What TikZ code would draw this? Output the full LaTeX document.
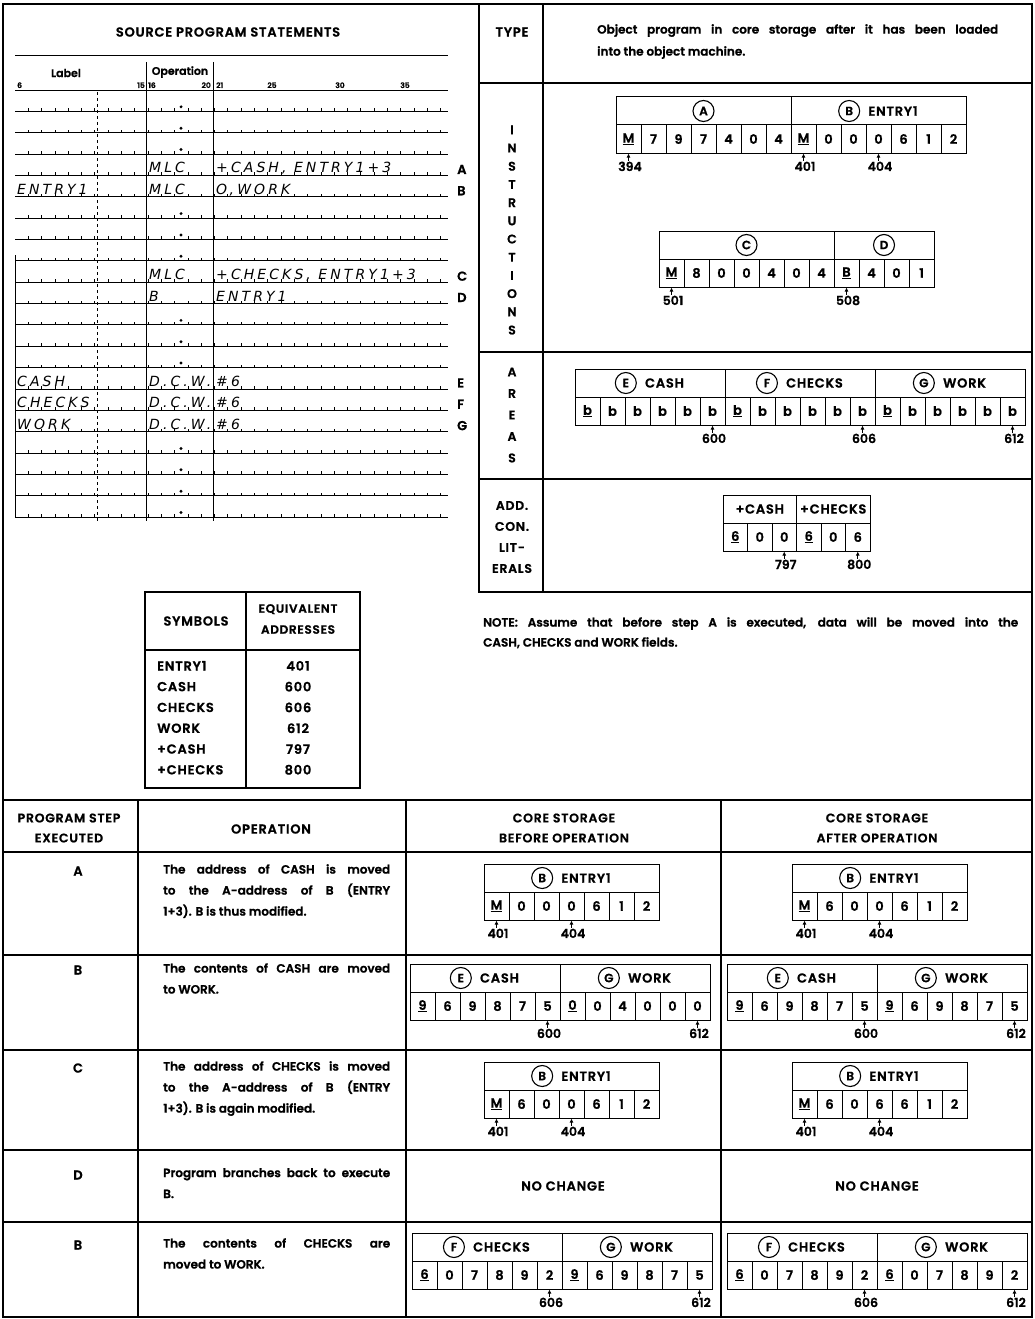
\documentclass[tikz,border=0pt]{standalone}
\usepackage{fontspec}
\IfFontExistsTF{Poppins SemiBold}{\def\mainname{Poppins SemiBold}}{%
  \IfFontExistsTF{Poppins Medium}{\def\mainname{Poppins Medium}}{\def\mainname{Poppins}}}
\setmainfont{\mainname}[FakeBold=1]
\newfontfamily\capsfont{\mainname}[FakeBold=1, LetterSpace=6]
\newfontfamily\handfont{DejaVu Sans}[LetterSpace=22]
\usetikzlibrary{positioning}
\usetikzlibrary{arrows.meta}

\def\cw{25}   % cell width
\def\chh{28}  % cell height
\def\hh{28}   % header height
\newcommand\wm[1]{\underline{#1}}
\newcommand\rowy[1]{90+21.35*(#1+1)}
\newcommand\capsz{\capsfont\fontsize{13}{15}\selectfont}

\tikzset{frame/.style={line width=1.2pt}}
\tikzset{sheet/.style={line width=0.8pt}}
\tikzset{cell/.style={draw, line width=1pt, minimum width=\cw pt, minimum height=\chh pt,
    inner sep=0pt, font=\fontsize{13}{15}\selectfont}}
\tikzset{hdbox/.style={draw, line width=1pt, minimum height=\hh pt, inner sep=0pt}}
\tikzset{circ/.style={draw, circle, line width=1.1pt, inner sep=0pt, minimum size=21pt,
    font=\fontsize{12}{13}\selectfont}}
\tikzset{htext/.style={inner sep=0pt, font=\capsz}}
\tikzset{addr/.style={inner sep=0pt, font=\fontsize{12.5}{14}\selectfont}}
\tikzset{ptr/.style={-{Latex[length=4pt,width=4pt]}, line width=0.9pt}}
\tikzset{lbl/.style={inner sep=0pt, font=\capsz}}
\tikzset{colnum/.style={inner sep=0pt, font=\fontsize{7.5}{9}\selectfont}}
\tikzset{opbody/.style={inner sep=0pt, text width=227pt, align=justify, anchor=north west,
    font=\fontsize{12}{21}\selectfont}}
\tikzset{hand/.style={inner sep=0pt, anchor=base west,
    font=\handfont\itshape\fontsize{14}{15}\selectfont}}

\newcommand\cellrow[4]{%
  \foreach \cv [count=\ci] in {#4}
    \node[cell] (#1\ci) at ({#2+(\ci-0.5)*\cw},{#3+\chh/2}) {\cv};}
\newcommand\headbox[4]{%
  \node[hdbox, minimum width={#4*\cw}] (#1) at ({#2+#4*\cw/2},{#3+\hh/2}) {};}
\newcommand\headtitle[3]{%
  \node[htext] (#1t) at ([xshift=14.5pt]#1.center) {#3};
  \node[circ, left=8pt of #1t] (#1c) {#2};}
\newcommand\headletter[2]{\node[circ] (#1c) at (#1.center) {#2};}
\newcommand\addrmark[3]{%
  \node[addr, below=8pt of #1.south, xshift=1.5pt] (#3) {#2};
  \draw[ptr] ([yshift=1pt]#3.north -| #1.south) -- (#1.south);}

\begin{document}
\begin{tikzpicture}[x=1pt,y=-1pt]
\useasboundingbox (0,0) rectangle (1034,1319);

% source program sheet
\draw[frame] (3,4) rectangle (1032,1317);
\node[lbl] (srcttl) at (228,32) {SOURCE PROGRAM STATEMENTS};
\draw[sheet] (15,55) -- (448,55);
\node[lbl, font=\fontsize{11}{12}\selectfont] (lblhd) at (66,73) {Label};
\node[lbl, font=\fontsize{11}{12}\selectfont] (ophd) at (180,72) {Operation};
\foreach \t/\x/\a [count=\ci] in {6/17/base west, 15/145/base east, 16/148/base west,
    20/211/base east, 21/216/base west, 25/272/base, 30/340/base, 35/405/base}
  \node[colnum, anchor=\a] (col\ci) at (\x,88) {\t};
\draw[sheet] (15,90) -- (448,90);
\draw[sheet] (146,62) -- (146,521);
\draw[sheet] (213,62) -- (213,521);
\draw[sheet, dashed] (97,92) -- (97,521);
\draw[sheet] (15,255) -- (15,517);
\foreach \k in {0,...,19} {
  \pgfmathsetmacro\ly{\rowy{\k}}
  \draw[sheet] (15,\ly) -- (448,\ly)
    \foreach \j in {1,...,32} {(15+13.3*\j,\ly) -- ++(0,-3)};
}
\foreach \k in {0,1,2,5,6,7,10,11,12,16,17,18,19}
  \fill (181,{\rowy{\k}-4.5}) circle (1.6);
\foreach \k/\lab/\opc/\opnd/\rowtag in {
    3//MLC/{+CASH, ENTRY1+3}/A,
    4/ENTRY1/MLC/{O,WORK}/B,
    8//MLC/{+CHECKS, ENTRY1+3}/C,
    9//B/ENTRY1/D,
    13/CASH/D.C.W./\#6/E,
    14/CHECKS/D.C.W./\#6/F,
    15/WORK/D.C.W./\#6/G} {
  \pgfmathsetmacro\ly{\rowy{\k}}
  \node[hand] (slab\rowtag) at (17,\ly-2.5) {\lab};
  \node[hand] (sop\rowtag) at (149,\ly-2.5) {\opc};
  \node[hand] (sarg\rowtag) at (216,\ly-2.5) {\opnd};
  \node[lbl, anchor=west] (stag\rowtag) at (457,\ly-6) {\rowtag};
}

% object program
\draw[frame] (479,4) -- (479,592) -- (1032,592);
\draw[frame] (479,83) -- (1032,83);
\draw[frame] (479,352) -- (1032,352);
\draw[frame] (479,479) -- (1032,479);
\draw[frame] (543,4) -- (543,592);
\node[lbl] (type) at (512,32) {TYPE};
\node[opbody, text width=401pt, font=\fontsize{12}{22}\selectfont] (typetxt) at (597,24)
  {Object program in core storage after it has been loaded\linebreak into the object machine.};
\node[lbl, align=center, font=\capsfont\fontsize{12.5}{18.2}\selectfont] (instr) at (512,230)
  {I\\N\\S\\T\\R\\U\\C\\T\\I\\O\\N\\S};
\node[lbl, align=center, font=\capsfont\fontsize{12.5}{21.5}\selectfont] (areas) at (512,415)
  {A\\R\\E\\A\\S};
\node[lbl, align=center, font=\capsfont\fontsize{12.5}{21}\selectfont] (lits) at (512,537)
  {ADD.\\CON.\\LIT-\\ERALS};

\headbox{hA}{616}{97}{7}\headletter{hA}{A}
\headbox{hB}{791}{97}{7}\headtitle{hB}{B}{ENTRY1}
\cellrow{ia}{616}{125}{\wm{M},7,9,7,4,0,4,\wm{M},0,0,0,6,1,2}
\addrmark{ia1}{394}{a394}
\addrmark{ia8}{401}{a401}
\addrmark{ia11}{404}{a404}

\headbox{hC}{659}{231}{7}\headletter{hC}{C}
\headbox{hD}{834}{231}{4}\headletter{hD}{D}
\cellrow{ic}{659}{259}{\wm{M},8,0,0,4,0,4,\wm{B},4,0,1}
\addrmark{ic1}{501}{a501}
\addrmark{ic8}{508}{a508}

\headbox{hE}{575}{369}{6}\headtitle{hE}{E}{CASH}
\headbox{hF}{725}{369}{6}\headtitle{hF}{F}{CHECKS}
\headbox{hG}{875}{369}{6}\headtitle{hG}{G}{WORK}
\cellrow{ar}{575}{397}{\wm{b},b,b,b,b,b,\wm{b},b,b,b,b,b,\wm{b},b,b,b,b,b}
\addrmark{ar6}{600}{a600}
\addrmark{ar12}{606}{a606}
\addrmark{ar18}{612}{a612}

\begin{scope}
\def\cw{24.5}
\headbox{hP}{723}{495}{3}
\node[htext] (hPt) at (hP.center) {+CASH};
\headbox{hQ}{796.5}{495}{3}
\node[htext] (hQt) at (hQ.center) {+CHECKS};
\cellrow{lit}{723}{523}{\wm{6},0,0,\wm{6},0,6}
\addrmark{lit3}{797}{a797}
\addrmark{lit6}{800}{a800}
\end{scope}

\node[opbody, text width=535pt, font=\fontsize{12}{20}\selectfont] (note) at (483,617)
  {NOTE: Assume that before step A is executed, data will be moved into the\linebreak
   CASH, CHECKS and WORK fields.};

% symbol table
\draw[frame] (145,592) rectangle (360,788);
\draw[frame] (246,592) -- (246,788);
\draw[frame] (145,650) -- (360,650);
\node[lbl] (symhd) at (196,621) {SYMBOLS};
\node[lbl, align=center, font=\capsfont\fontsize{12}{21}\selectfont] (eqhd) at (298,619)
  {EQUIVALENT\\ADDRESSES};
\foreach \s/\a [count=\ci] in {ENTRY1/401, CASH/600, CHECKS/606, WORK/612, +CASH/797, +CHECKS/800} {
  \node[lbl, anchor=west] (sym\ci) at (157,{645+20.8*\ci}) {\s};
  \node[lbl] (eqv\ci) at (298,{645+20.8*\ci}) {\a};
}

% program steps
\draw[frame] (3,800) -- (1032,800);
\foreach \y in {852,955,1050,1150,1222}
  \draw[frame] (3,\y) -- (1032,\y);
\foreach \x in {138,406,721}
  \draw[frame] (\x,800) -- (\x,1317);
\node[lbl, align=center, font=\capsfont\fontsize{12.5}{20}\selectfont] (hstep) at (69,828) {PROGRAM STEP\\EXECUTED};
\node[lbl] (hoper) at (271,829) {OPERATION};
\node[lbl, align=center, font=\capsfont\fontsize{12.5}{20}\selectfont] (hbef) at (564,828) {CORE STORAGE\\BEFORE OPERATION};
\node[lbl, align=center, font=\capsfont\fontsize{12.5}{20}\selectfont] (haft) at (877,828) {CORE STORAGE\\AFTER OPERATION};

\node[lbl] (stepA) at (78,871) {A};
\node[opbody] (txtA) at (163,864)
  {The address of CASH is moved\linebreak to the A-address of B (ENTRY\linebreak 1+3). B is thus modified.};
\node[lbl] (stepB) at (78,970) {B};
\node[opbody] (txtB) at (163,963)
  {The contents of CASH are moved\linebreak to WORK.};
\node[lbl] (stepC) at (78,1068) {C};
\node[opbody] (txtC) at (163,1061)
  {The address of CHECKS is moved\linebreak to the A-address of B (ENTRY\linebreak 1+3). B is again modified.};
\node[lbl] (stepD) at (78,1175) {D};
\node[opbody] (txtD) at (163,1168)
  {Program branches back to execute\linebreak B.};
\node[lbl] (stepE) at (78,1245) {B};
\node[opbody] (txtE) at (163,1238)
  {The contents of CHECKS are\linebreak moved to WORK.};

% step A
\headbox{bAh}{484}{864}{7}\headtitle{bAh}{B}{ENTRY1}
\cellrow{bA}{484}{892}{\wm{M},0,0,0,6,1,2}
\addrmark{bA1}{401}{bAa}
\addrmark{bA4}{404}{bAb}
\headbox{aAh}{792}{864}{7}\headtitle{aAh}{B}{ENTRY1}
\cellrow{aA}{792}{892}{\wm{M},6,0,0,6,1,2}
\addrmark{aA1}{401}{aAa}
\addrmark{aA4}{404}{aAb}

% step B
\headbox{bBe}{410}{964}{6}\headtitle{bBe}{E}{CASH}
\headbox{bBg}{560}{964}{6}\headtitle{bBg}{G}{WORK}
\cellrow{bB}{410}{992}{\wm{9},6,9,8,7,5,\wm{0},0,4,0,0,0}
\addrmark{bB6}{600}{bBa}
\addrmark{bB12}{612}{bBb}
\headbox{aBe}{727}{964}{6}\headtitle{aBe}{E}{CASH}
\headbox{aBg}{877}{964}{6}\headtitle{aBg}{G}{WORK}
\cellrow{aB}{727}{992}{\wm{9},6,9,8,7,5,\wm{9},6,9,8,7,5}
\addrmark{aB6}{600}{aBa}
\addrmark{aB12}{612}{aBb}

% step C
\headbox{bCh}{484}{1062}{7}\headtitle{bCh}{B}{ENTRY1}
\cellrow{bC}{484}{1090}{\wm{M},6,0,0,6,1,2}
\addrmark{bC1}{401}{bCa}
\addrmark{bC4}{404}{bCb}
\headbox{aCh}{792}{1062}{7}\headtitle{aCh}{B}{ENTRY1}
\cellrow{aC}{792}{1090}{\wm{M},6,0,6,6,1,2}
\addrmark{aC1}{401}{aCa}
\addrmark{aC4}{404}{aCb}

% step D
\node[lbl] (nochg1) at (563,1186) {NO CHANGE};
\node[lbl] (nochg2) at (877,1186) {NO CHANGE};

% step B again
\headbox{bEf}{412}{1233}{6}\headtitle{bEf}{F}{CHECKS}
\headbox{bEg}{562}{1233}{6}\headtitle{bEg}{G}{WORK}
\cellrow{bE}{412}{1261}{\wm{6},0,7,8,9,2,\wm{9},6,9,8,7,5}
\addrmark{bE6}{606}{bEa}
\addrmark{bE12}{612}{bEb}
\headbox{aEf}{727}{1233}{6}\headtitle{aEf}{F}{CHECKS}
\headbox{aEg}{877}{1233}{6}\headtitle{aEg}{G}{WORK}
\cellrow{aE}{727}{1261}{\wm{6},0,7,8,9,2,\wm{6},0,7,8,9,2}
\addrmark{aE6}{606}{aEa}
\addrmark{aE12}{612}{aEb}
\end{tikzpicture}
\end{document}
